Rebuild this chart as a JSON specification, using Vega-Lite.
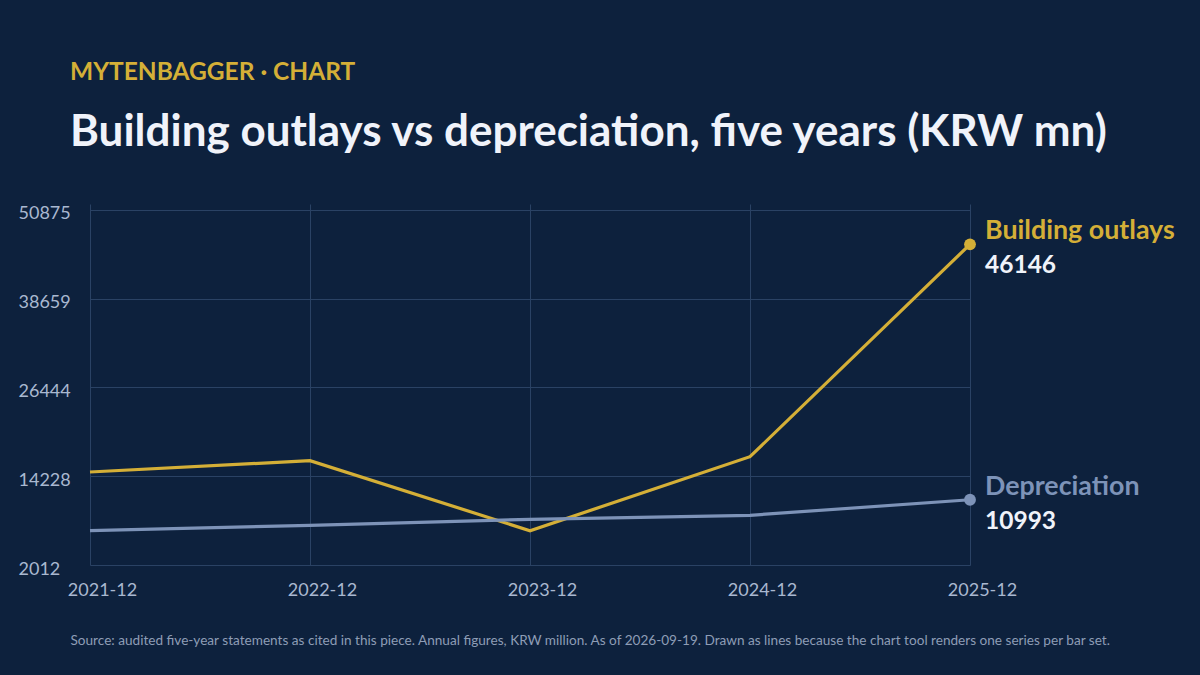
{
  "$schema": "https://vega.github.io/schema/vega-lite/v6.json",
  "width": 880,
  "height": 361,
  "autosize": {"type": "none"},
  "padding": {"left": 90, "top": 204, "right": 230, "bottom": 110},
  "background": "#0d213d",
  "config": {
    "view": {"stroke": null},
    "font": "Lato",
    "axis": {"labelFont": "Lato", "titleFont": "Lato"}
  },
  "title": {
    "text": "MYTENBAGGER · CHART",
    "subtitle": "Building outlays vs depreciation, five years (KRW mn)",
    "anchor": "start",
    "frame": "group",
    "dx": -20,
    "offset": 48,
    "font": "Lato",
    "fontSize": 24.5,
    "fontWeight": "bold",
    "color": "#d4af37",
    "subtitleFont": "Lato",
    "subtitleFontSize": 44,
    "subtitleFontWeight": "bold",
    "subtitleColor": "#f0f3fa",
    "subtitlePadding": 26
  },
  "data": {
    "values": [
      {"period": "2021-12", "series": "Building outlays", "value": 14813},
      {"period": "2022-12", "series": "Building outlays", "value": 16368},
      {"period": "2023-12", "series": "Building outlays", "value": 6733},
      {"period": "2024-12", "series": "Building outlays", "value": 16918},
      {"period": "2025-12", "series": "Building outlays", "value": 46146},
      {"period": "2021-12", "series": "Depreciation", "value": 6733},
      {"period": "2022-12", "series": "Depreciation", "value": 7476},
      {"period": "2023-12", "series": "Depreciation", "value": 8302},
      {"period": "2024-12", "series": "Depreciation", "value": 8853},
      {"period": "2025-12", "series": "Depreciation", "value": 10993}
    ]
  },
  "encoding": {
    "x": {
      "field": "period",
      "type": "ordinal",
      "scale": {"type": "point", "padding": 0},
      "sort": null,
      "axis": {
        "title": "Source: audited five-year statements as cited in this piece. Annual figures, KRW million. As of 2026-09-19. Drawn as lines because the chart tool renders one series per bar set.",
        "titleFontSize": 13.6,
        "titleFontWeight": "normal",
        "titleColor": "#8e9db6",
        "titleAnchor": "start",
        "titleAlign": "left",
        "titleX": -20,
        "titleY": 68,
        "labelAngle": 0,
        "labelFontSize": 18,
        "labelColor": "#a9b8d0",
        "labelOffset": 12,
        "labelPadding": 16,
        "domain": false,
        "ticks": false,
        "grid": true,
        "gridColor": "#2a4264",
        "gridWidth": 1
      }
    },
    "y": {
      "field": "value",
      "type": "quantitative",
      "scale": {"domain": [2012, 51700], "nice": false, "zero": false},
      "axis": {
        "title": null,
        "values": [2012, 14228, 26444, 38659, 50875],
        "format": "d",
        "labelAlign": "left",
        "labelPadding": 72,
        "labelOffset": 4,
        "labelFontSize": 18,
        "labelColor": "#a9b8d0",
        "domain": false,
        "ticks": false,
        "grid": true,
        "gridColor": "#2a4264",
        "gridWidth": 1
      }
    },
    "color": {
      "field": "series",
      "type": "nominal",
      "scale": {"domain": ["Building outlays", "Depreciation"], "range": ["#d4af37", "#7d93b8"]},
      "legend": null
    }
  },
  "layer": [
    {"mark": {"type": "line", "strokeWidth": 3.2}},
    {
      "transform": [{"filter": "datum.period === '2025-12'"}],
      "mark": {"type": "point", "filled": true, "size": 140, "opacity": 1}
    },
    {
      "transform": [{"filter": "datum.period === '2025-12'"}],
      "mark": {"type": "text", "align": "left", "baseline": "middle", "dx": 15, "dy": -13, "fontSize": 26.8, "fontWeight": "bold", "font": "Lato"},
      "encoding": {"text": {"field": "series"}}
    },
    {
      "transform": [{"filter": "datum.period === '2025-12'"}],
      "mark": {"type": "text", "align": "left", "baseline": "middle", "dx": 15, "dy": 22, "fontSize": 24.5, "fontWeight": "bold", "font": "Lato", "color": "#f0f3fa"},
      "encoding": {"text": {"field": "value", "type": "quantitative", "format": "d"}, "color": {"value": "#f0f3fa"}}
    }
  ]
}
